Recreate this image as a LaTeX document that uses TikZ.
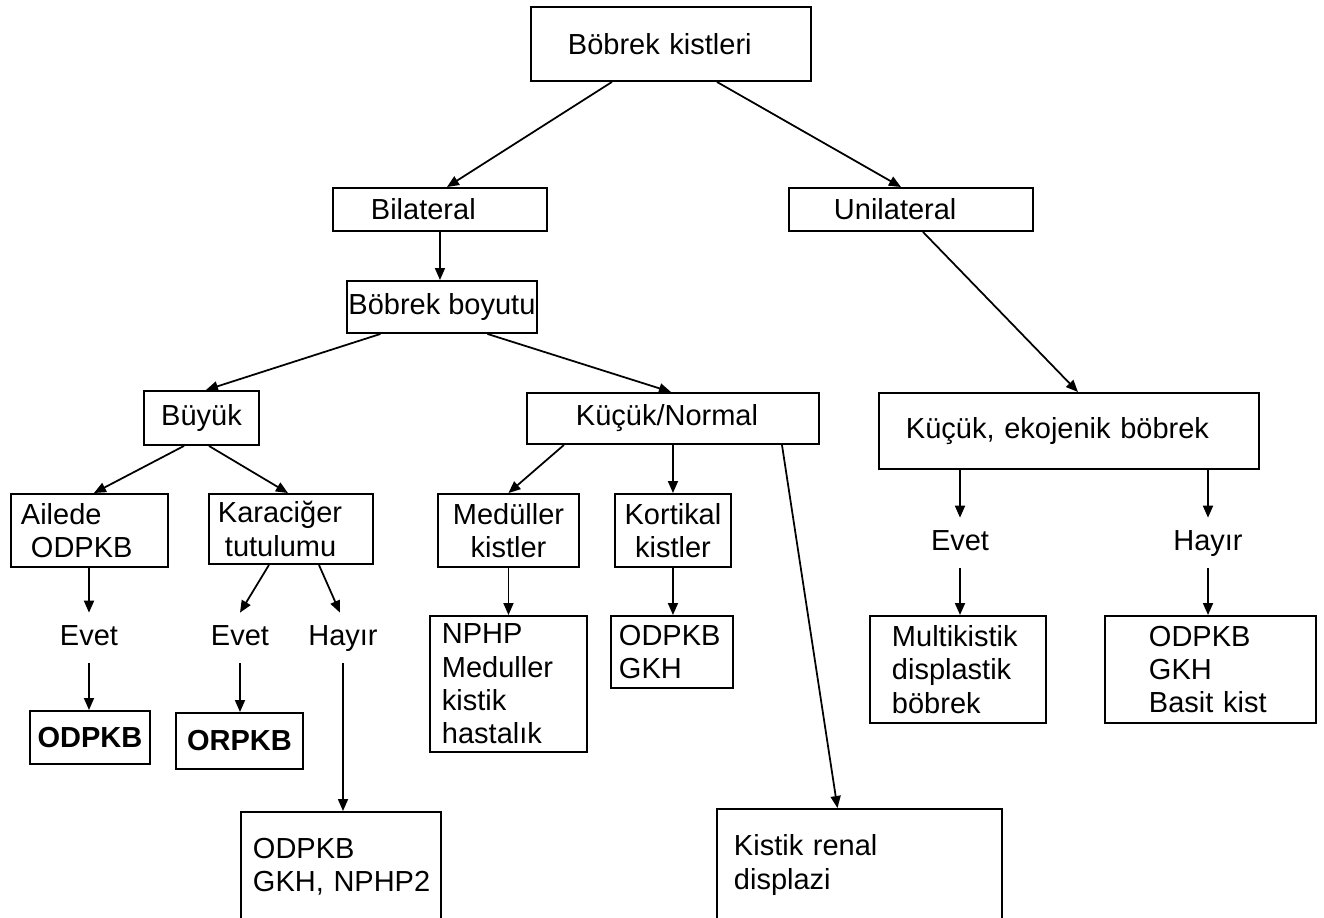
\documentclass[tikz,border=0pt]{standalone}
\usepackage{fontspec}
\setmainfont{Liberation Sans}
\usetikzlibrary{arrows.meta}

\tikzset{
  box/.style={draw, line width=1.1pt, anchor=north west, align=left, inner ysep=2pt},
  ans/.style={inner sep=0pt, minimum height=10mm, text height=12pt, text depth=4pt},
  arr/.style={line width=1pt, -{Triangle[length=2.4mm,width=2mm]}}
}

\begin{document}
\begin{tikzpicture}[x=0.2mm, y=-0.2mm, font=\fontsize{16.5}{19}\selectfont]
  \clip (0,0) rectangle (1324,917);

  % upper levels
  \node[box, minimum width=56mm, minimum height=14.8mm, inner xsep=7.4mm, text width=41.2mm] (root) at (530,6) {Böbrek kistleri};
  \node[box, minimum width=42.8mm, minimum height=8.6mm, inner xsep=7.6mm, text width=27.6mm] (bil) at (332,187) {Bilateral};
  \node[box, minimum width=48.8mm, minimum height=8.6mm, inner xsep=9mm, text width=30.8mm] (uni) at (788,187) {Unilateral};
  \node[box, align=center, minimum width=37.8mm, minimum height=10.4mm, inner xsep=0.3mm] (boy) at (346,280) {Böbrek boyutu};
  \node[box, align=center, minimum width=23mm, minimum height=10.8mm] (buy) at (143,390) {Büyük};
  \node[box, minimum width=58.4mm, minimum height=10.2mm, inner xsep=9.8mm, text width=38.8mm] (kn) at (526,392) {Küçük/Normal};
  \node[box, minimum width=76mm, minimum height=15.2mm, inner xsep=5.4mm, text width=65.2mm] (eko) at (878,392) {Küçük, ekojenik böbrek};

  % second row
  \node[box, minimum width=31.4mm, minimum height=14.6mm, inner xsep=2mm, text width=27.4mm] (ail) at (10,493) {Ailede\\\hspace*{2mm}ODPKB};
  \node[box, minimum width=32.8mm, minimum height=14mm, inner xsep=1.8mm, text width=29.2mm] (kar) at (208,493) {Karaciğer\\\hspace*{1.4mm}tutulumu};
  \node[box, align=center, minimum width=28.2mm, minimum height=14.6mm] (med) at (437,493) {Medüller\\kistler};
  \node[box, align=center, minimum width=23.2mm, minimum height=14.6mm] (kor) at (614,493) {Kortikal\\kistler};

  % yes / no
  \node[ans] (yes1) at (89,638) {Evet};
  \node[ans] (yes2) at (240,638) {Evet};
  \node[ans] (no2) at (343,638) {Hayır};
  \node[ans] (yes3) at (960,543) {Evet};
  \node[ans] (no3) at (1208,543) {Hayır};

  % results
  \node[box, align=center, font=\fontsize{16.5}{19}\selectfont\bfseries, minimum width=24mm, minimum height=10.6mm] (odp1) at (29,710) {ODPKB};
  \node[box, align=center, font=\fontsize{16.5}{19}\selectfont\bfseries, minimum width=25.4mm, minimum height=11.2mm] (orp) at (175,712) {ORPKB};
  \node[box, minimum width=31.4mm, minimum height=27.2mm, inner xsep=2.4mm, text width=26.6mm] (nph) at (429,615) {NPHP\\Meduller\\kistik\\hastalık};
  \node[box, minimum width=24.4mm, minimum height=14.4mm, inner xsep=1.6mm, text width=21.2mm] (kgk) at (610,615) {ODPKB\\GKH};
  \node[box, minimum width=35.2mm, minimum height=21.4mm, inner xsep=4.4mm, text width=26.4mm] (mul) at (869,615) {Multikistik\\displastik\\böbrek};
  \node[box, minimum width=42.2mm, minimum height=21.4mm, inner xsep=8.8mm, text width=24.6mm] (bas) at (1104,615) {ODPKB\\GKH\\Basit kist};
  \node[box, minimum width=40mm, minimum height=21.8mm, inner xsep=2.4mm, text width=35.2mm] (np2) at (240,811) {ODPKB\\GKH,~NPHP2};
  \node[box, minimum width=57mm, minimum height=22.4mm, inner xsep=3.4mm, text width=50.2mm] (kis) at (716,808) {Kistik renal\\displazi};

  % connectors
  \draw[arr] ([xshift=-11.8mm]root.south) -- ([xshift=1.4mm]bil.north);
  \draw[arr] ([xshift=9.2mm]root.south) -- ([xshift=-2mm]uni.north);
  \draw[arr] (bil.south) -- (bil.south |- boy.north);
  \draw[arr] ([xshift=-12.3mm]boy.south) -- ([xshift=0.9mm]buy.north);
  \draw[arr] ([xshift=9.1mm]boy.south) -- ([xshift=-0.4mm]kn.north);
  \draw[arr] ([xshift=2.4mm]uni.south) -- ([xshift=1.8mm]eko.north);

  \draw[arr] ([xshift=-3.5mm]buy.south) -- ([xshift=0.9mm]ail.north);
  \draw[arr] ([xshift=1.5mm]buy.south) -- ([xshift=-0.6mm]kar.north);
  \draw[arr] ([xshift=-21.8mm]kn.south) -- (med.north);
  \draw[arr] (kn.south) -- (kn.south |- kor.north);
  \draw[arr] ([xshift=21.8mm]kn.south) -- ([xshift=-4.4mm]kis.north);

  \draw[arr] (yes1.north |- ail.south) -- (yes1.north);
  \draw[arr] (yes1.south) -- (yes1.south |- odp1.north);
  \draw[arr] ([xshift=-4.4mm]kar.south) -- (yes2.north);
  \draw[arr] ([xshift=5.6mm]kar.south) -- ([xshift=-0.6mm]no2.north);
  \draw[arr] (yes2.south) -- (yes2.south |- orp.north);
  \draw[arr] (no2.south) -- (no2.south |- np2.north);
  \draw[arr] (med.south) -- (med.south |- nph.north);
  \draw[arr] (kor.south) -- (kor.south |- kgk.north);

  \draw[arr] (yes3.north |- eko.south) -- (yes3.north);
  \draw[arr] (yes3.south) -- (yes3.south |- mul.north);
  \draw[arr] (no3.north |- eko.south) -- (no3.north);
  \draw[arr] (no3.south) -- (no3.south |- bas.north);
\end{tikzpicture}
\end{document}
